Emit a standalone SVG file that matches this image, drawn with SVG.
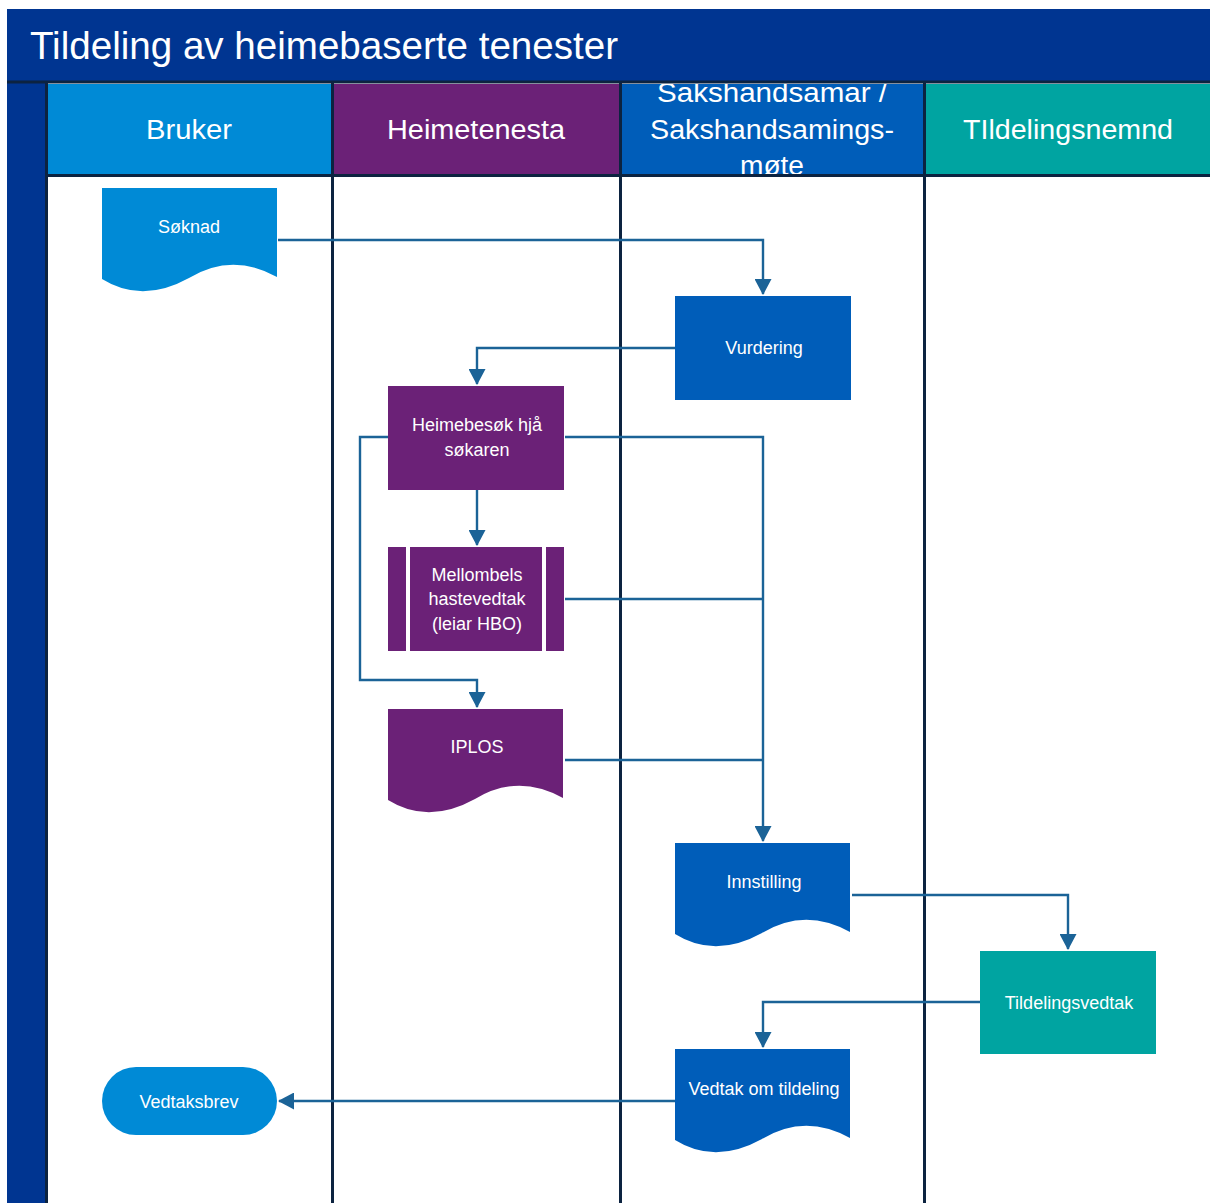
<svg xmlns="http://www.w3.org/2000/svg" width="1210" height="1203" viewBox="0 0 1210 1203">
<style>
text{font-family:"Liberation Sans",Arial,sans-serif;fill:#fff;text-anchor:middle}
.title{font-size:38px;text-anchor:start}
.hdr{font-size:27px}
.nt{font-size:18px}
.sep{stroke:#0c2340;stroke-width:3;fill:none}
.c{stroke:#1b6397;stroke-width:2.4;fill:none}
.bru{fill:#008ad6}.hei{fill:#6b2177}.sak{fill:#005db9}.til{fill:#00a4a1}
</style>
<defs>
<path id="doc" d="M0,0 H175 V89 Q130,64 87,90 Q40,116 0,91 Z"/>
<marker id="ah" viewBox="0 0 16 17" refX="15" refY="8.5" markerWidth="16" markerHeight="17" markerUnits="userSpaceOnUse" orient="auto">
<path d="M0,0 L16,8.5 L0,17 Z" fill="#1b6397"/>
</marker>
</defs>
<rect width="1210" height="1203" fill="#fff"/>
<g id="lanes">
<rect x="7" y="9" width="1203" height="73" fill="#003591"/>
<text class="title" x="30" y="59" textLength="588" lengthAdjust="spacingAndGlyphs">Tildeling av heimebaserte tenester</text>
<rect x="7" y="82" width="39" height="1121" fill="#003591"/>
<rect x="46" y="84" width="286" height="91" class="bru"/>
<rect x="332" y="84" width="288" height="91" class="hei"/>
<rect x="620" y="84" width="304" height="91" class="sak"/>
<rect x="924" y="84" width="286" height="91" class="til"/>
<text class="hdr" x="189" y="139" textLength="86" lengthAdjust="spacingAndGlyphs">Bruker</text>
<text class="hdr" x="476" y="139" textLength="178" lengthAdjust="spacingAndGlyphs">Heimetenesta</text>
<text class="hdr" x="772" y="102" textLength="230" lengthAdjust="spacingAndGlyphs">Sakshandsamar /</text>
<text class="hdr" x="772" y="139" textLength="244" lengthAdjust="spacingAndGlyphs">Sakshandsamings-</text>
<text class="hdr" x="772" y="175" textLength="64" lengthAdjust="spacingAndGlyphs">møte</text>
<text class="hdr" x="1068" y="139" textLength="210" lengthAdjust="spacingAndGlyphs">TIldelingsnemnd</text>
<line class="sep" x1="7" y1="82" x2="1210" y2="82"/>
<line class="sep" x1="46" y1="175.5" x2="1210" y2="175.5"/>
<line class="sep" x1="46.5" y1="82" x2="46.5" y2="1203"/>
<line class="sep" x1="332.5" y1="82" x2="332.5" y2="1203"/>
<line class="sep" x1="620.5" y1="82" x2="620.5" y2="1203"/>
<line class="sep" x1="924.5" y1="82" x2="924.5" y2="1203"/>
</g>
<g id="connectors">
<path class="c" d="M278,240 H763 V294" marker-end="url(#ah)"/>
<path class="c" d="M675,348 H477 V384" marker-end="url(#ah)"/>
<path class="c" d="M477,490 V545" marker-end="url(#ah)"/>
<path class="c" d="M388,437 H360 V680 H477 V707" marker-end="url(#ah)"/>
<path class="c" d="M565,437 H763 V841" marker-end="url(#ah)"/>
<path class="c" d="M565,599 H763"/>
<path class="c" d="M565,760 H763"/>
<path class="c" d="M852,895 H1068 V949" marker-end="url(#ah)"/>
<path class="c" d="M980,1002 H763 V1047" marker-end="url(#ah)"/>
<path class="c" d="M675,1101 H279" marker-end="url(#ah)"/>
</g>
<g id="soknad">
<use href="#doc" x="102" y="188" class="bru"/>
<text class="nt" x="189" y="233">Søknad</text>
</g>
<g id="vurdering">
<rect x="675" y="296" width="176" height="104" class="sak"/>
<text class="nt" x="764" y="354">Vurdering</text>
</g>
<g id="heimebesok">
<rect x="388" y="386" width="176" height="104" class="hei"/>
<text class="nt" x="477" y="431">Heimebesøk hjå</text>
<text class="nt" x="477" y="456">søkaren</text>
</g>
<g id="mellombels">
<rect x="388" y="547" width="176" height="104" class="hei"/>
<rect x="406" y="547" width="4" height="104" fill="#fff"/>
<rect x="542" y="547" width="4" height="104" fill="#fff"/>
<text class="nt" x="477" y="581">Mellombels</text>
<text class="nt" x="477" y="605">hastevedtak</text>
<text class="nt" x="477" y="630">(leiar HBO)</text>
</g>
<g id="iplos">
<use href="#doc" x="388" y="709" class="hei"/>
<text class="nt" x="477" y="753">IPLOS</text>
</g>
<g id="innstilling">
<use href="#doc" x="675" y="843" class="sak"/>
<text class="nt" x="764" y="888">Innstilling</text>
</g>
<g id="tildelingsvedtak">
<rect x="980" y="951" width="176" height="103" class="til"/>
<text class="nt" x="1069" y="1009">Tildelingsvedtak</text>
</g>
<g id="vedtak">
<use href="#doc" x="675" y="1049" class="sak"/>
<text class="nt" x="764" y="1095">Vedtak om tildeling</text>
</g>
<g id="vedtaksbrev">
<rect x="102" y="1067" width="175" height="68" rx="34" class="bru"/>
<text class="nt" x="189" y="1108">Vedtaksbrev</text>
</g>
</svg>
